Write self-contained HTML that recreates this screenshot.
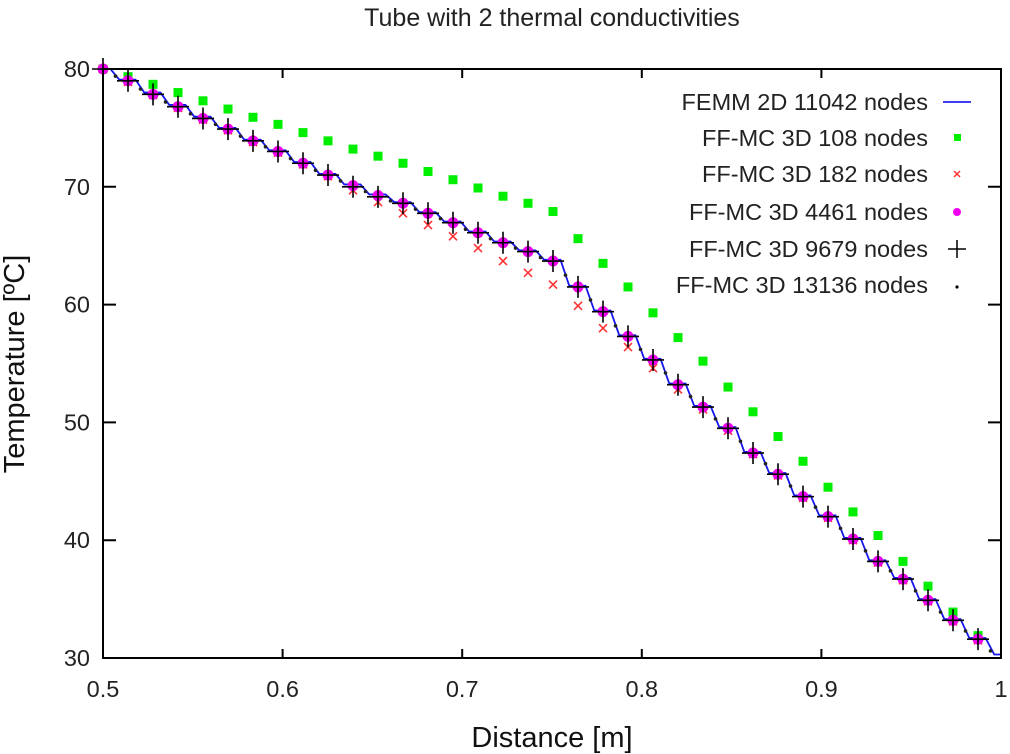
<!DOCTYPE html>
<html><head><meta charset="utf-8"><style>
body{margin:0;background:#fff;width:1010px;height:754px;overflow:hidden}
svg{display:block;font-family:"Liberation Sans",sans-serif}
</style></head><body>
<svg id="chart" width="1010" height="754" xmlns="http://www.w3.org/2000/svg">
<text x="552" y="26" font-size="25" text-anchor="middle" fill="#222">Tube with 2 thermal conductivities</text>
<g id="grid"></g>
<g id="series"></g>
<rect x="103" y="69" width="898" height="589" fill="none" stroke="#000" stroke-width="2"/>
<text transform="translate(24,364) rotate(-90)" font-size="29" text-anchor="middle" fill="#111">Temperature [ºC]</text>
<text x="552" y="747" font-size="29" text-anchor="middle" fill="#111">Distance [m]</text>
<g id="legend" font-size="23.5" fill="#222" text-anchor="end">
<text x="928" y="110">FEMM 2D 11042 nodes</text>
<line x1="943" y1="102" x2="971" y2="102" stroke="#0000ee" stroke-width="1.5"/>
<text x="928" y="146">FF-MC 3D 108 nodes</text>
<rect x="954" y="134" width="7" height="7" fill="#00ee00"/>
<text x="928" y="182">FF-MC 3D 182 nodes</text>
<path d="M954 171 l6 6 M960 171 l-6 6" stroke="#ff3333" stroke-width="1.5"/>
<text x="928" y="220">FF-MC 3D 4461 nodes</text>
<circle cx="957" cy="212" r="4" fill="#ee00ee"/>
<text x="928" y="257">FF-MC 3D 9679 nodes</text>
<path d="M948 249 h18 M957 240 v18" stroke="#000" stroke-width="1.5"/>
<text x="928" y="293">FF-MC 3D 13136 nodes</text>
<circle cx="957" cy="287" r="1.6" fill="#000"/>
</g>
</svg>
<script>
const xStart = 0.5, xStep = 0.01392;
const xTicks = [0.5,0.6,0.7,0.8,0.9,1.0];
const xTickLabels = ["0.5","0.6","0.7","0.8","0.9","1"];
const yTicks = [30,40,50,60,70,80];
const yTickLabels = ["30","40","50","60","70","80"];
const seriesGreen = [80,79.35,78.7,78.0,77.3,76.6,75.9,75.3,74.6,73.9,73.2,72.6,72.0,71.3,70.6,69.9,69.2,68.6,67.9,65.6,63.5,61.5,59.3,57.2,55.2,53.0,50.9,48.8,46.7,44.5,42.4,40.4,38.2,36.1,33.9,31.9];
const seriesMagenta = [80,79.0,77.85,76.8,75.8,74.9,73.9,73.0,72.0,71.0,70.1,69.25,68.6,67.75,66.95,66.1,65.25,64.5,63.7,61.5,59.4,57.3,55.3,53.2,51.3,49.5,47.4,45.6,43.7,42.0,40.1,38.2,36.7,34.9,33.2,31.6];
const seriesRed = [80,78.9,77.8,76.7,75.7,74.8,73.8,72.9,71.9,70.9,69.7,68.7,67.75,66.75,65.8,64.8,63.7,62.7,61.7,59.9,58.0,56.4,54.6,52.8,51.1,49.3,47.3,45.5,43.6,41.9,40.0,38.1,36.6,34.8,33.1,31.5];
const seriesCross = [80,79.0,77.85,76.8,75.8,74.9,73.9,73.0,72.0,71.0,70.0,69.15,68.6,67.75,66.95,66.1,65.25,64.5,63.7,61.5,59.4,57.3,55.3,53.2,51.3,49.5,47.4,45.6,43.7,42.0,40.1,38.2,36.7,34.9,33.2,31.6];
const seriesDots = [79.4,78.3,77.2,76.2,75.3,74.3,73.4,72.4,71.4,70.5,69.6,68.8,68.1,67.3,66.4,65.6,64.8,64.0,62.5,60.4,58.2,56.2,54.2,52.2,50.3,48.4,46.5,44.6,42.8,41.0,39.1,37.4,35.7,33.9,32.3,30.6];
const seriesFemm = [80,79.1,78.0,76.95,75.95,75.0,74.0,73.1,72.1,71.1,70.2,69.35,68.7,67.85,67.05,66.2,65.35,64.6,63.8,61.6,59.5,57.4,55.4,53.3,51.4,49.6,47.5,45.7,43.8,42.1,40.2,38.3,36.8,35.0,33.3,31.7,30.3];

const X = v => 103 + (v - 0.5) * 1796;
const Y = v => 658 - (v - 30) * 11.78;
const xi = k => X(xStart + k * xStep);
const NS = "http://www.w3.org/2000/svg";
const mk = (tag, attrs, parent) => { const e = document.createElementNS(NS, tag); for (const a in attrs) e.setAttribute(a, attrs[a]); parent.appendChild(e); return e; };
const grid = document.getElementById('grid'), ser = document.getElementById('series');

xTicks.forEach((t, i) => {
  const x = X(t);
  const l = mk('path', {d:`M${x} 658 v-9 M${x} 69 v9`, stroke:'#000', 'stroke-width':2}, grid);
  
  
  const tx = mk('text', {x:x, y:697, 'font-size':23.5, 'text-anchor':'middle', fill:'#222'}, grid);
  tx.textContent = xTickLabels[i];
  
  
});
yTicks.forEach((t, i) => {
  const y = Y(t);
  const l = mk('path', {d:`M103 ${y} h13 M1001 ${y} h-13`, stroke:'#000', 'stroke-width':2}, grid);
  
  
  const tx = mk('text', {x:90, y:y + 8, 'font-size':23.5, 'text-anchor':'end', fill:'#222'}, grid);
  tx.textContent = yTickLabels[i];
  
  
});

let d = `M${X(0.5)} ${Y(seriesFemm[0])}`;
for (let k = 0; k < seriesFemm.length; k++) {
  const xa = Math.max(103, xi(k - 0.35)), xb = Math.min(1001, xi(k + 0.3));
  d += ` L${xa} ${Y(seriesFemm[k])} L${xb} ${Y(seriesFemm[k])}`;
}
d += ` L1001 ${Y(seriesFemm[seriesFemm.length - 1])}`;
const femm = mk('path', {d:d, fill:'none', stroke:'#1515ee', 'stroke-width':1.8}, ser);



seriesGreen.forEach((v, k) => {
  const r = mk('rect', {x:xi(k) - 4.5, y:Y(v) - 4.5, width:9, height:9, fill:'#00ee00'}, ser);
  
  
});
seriesRed.forEach((v, k) => {
  const x = xi(k), y = Y(v);
  const p = mk('path', {d:`M${x-4} ${y-4} l8 8 M${x+4} ${y-4} l-8 8`, stroke:'#ff3333', 'stroke-width':1.6}, ser);
  
  
});
seriesMagenta.forEach((v, k) => {
  const c = mk('circle', {cx:xi(k), cy:Y(v), r:5.5, fill:'#ee00ee'}, ser);
  
  
});
seriesDots.forEach((v, k) => {
  const c = mk('circle', {cx:xi(k + 0.5), cy:Y(v), r:1.8, fill:'#222'}, ser);
  
  
});
seriesCross.forEach((v, k) => {
  const x = xi(k), y = Y(v);
  const p = mk('path', {d:`M${x-11} ${y} h22 M${x} ${y-11} v22`, stroke:'#000', 'stroke-width':1.6}, ser);
  
  
});
</script>
</body></html>
